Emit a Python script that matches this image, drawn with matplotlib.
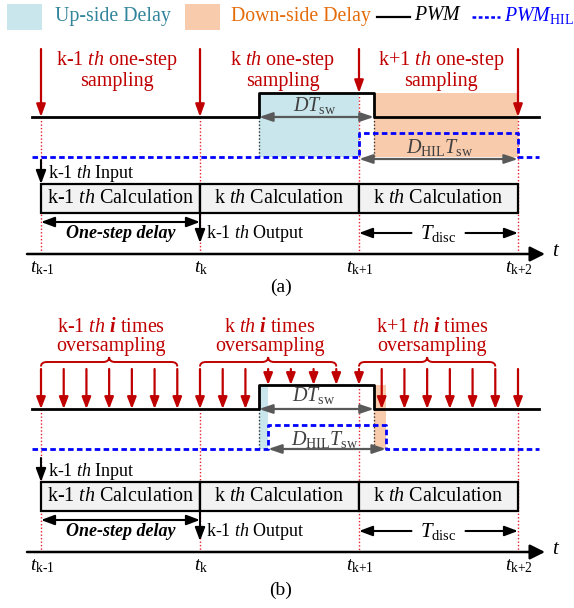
import matplotlib
matplotlib.use("Agg")
import matplotlib.pyplot as plt
from matplotlib.patches import Rectangle, PathPatch
from matplotlib.path import Path
from matplotlib.lines import Line2D

plt.rcParams['font.family'] = ['Liberation Serif', 'DejaVu Serif']
plt.rcParams['mathtext.fontset'] = 'custom'
plt.rcParams['mathtext.rm'] = 'Liberation Serif'
plt.rcParams['mathtext.it'] = 'Liberation Serif:italic'
plt.rcParams['mathtext.bf'] = 'Liberation Serif:bold'
plt.rcParams['mathtext.bfit'] = 'Liberation Serif:bold:italic'

# ---------------- data (time in sampling periods) ----------------
tick_times = [0, 1, 2, 3]
tick_labels = [r'$t_{\text{k-1}}$', r'$t_{\text{k}}$', r'$t_{\text{k+1}}$', r'$t_{\text{k+2}}$']
calc_labels = [r'k-1 $\mathit{th}$ Calculation', r'k $\mathit{th}$ Calculation', r'k $\mathit{th}$ Calculation']
sampling_a_labels = [r'k-1 $\mathit{th}$ one-step' + '\nsampling',
                     r'k $\mathit{th}$ one-step' + '\nsampling',
                     r'k+1 $\mathit{th}$ one-step' + '\nsampling']
sampling_b_labels = [r'k-1 $\mathit{th}$ $\mathbfit{i}$ times' + '\noversampling',
                     r'k $\mathit{th}$ $\mathbfit{i}$ times' + '\noversampling',
                     r'k+1 $\mathit{th}$ $\mathbfit{i}$ times' + '\noversampling']
oversampling_i = 7
pwm_a = [1.371, 2.094]      # rise, fall of PWM (a)
hil_a = [2.0, 3.0]          # rise, fall of PWM_HIL (a)
pwm_b = [1.371, 2.094]      # rise, fall of PWM (b)
hil_b = [1.428, 2.170]      # rise, fall of PWM_HIL (b)
signal_span = [-0.057, 3.13]

# ---------------- styling ----------------
RED = '#C00000'
RED_DOT = '#E8202A'
BLUE = '#0000FF'
UPFILL = '#C8E6EC'
DOWNFILL = '#F8CBAD'
UPTXT = '#31849B'
DOWNTXT = '#E46C0A'
GRAY = '#595959'
X0, P = 41, 159.0


def X(t):
    return X0 + t * P


fig = plt.figure(figsize=(5.74, 6.08), dpi=100)
ax = fig.add_axes([0, 0, 1, 1])
ax.set_xlim(0, 574)
ax.set_ylim(608, 0)
ax.axis('off')


def arrow(x1, y1, x2, y2, color='k', style='-|>', lw=1.5, hl=0.7, hw=0.3, z=5):
    ax.annotate('', xy=(x2, y2), xytext=(x1, y1),
                arrowprops=dict(arrowstyle=f'{style},head_length={hl},head_width={hw}',
                                color=color, lw=lw, shrinkA=0, shrinkB=0,
                                mutation_scale=10), zorder=z)


def brace(x1, x2, y, h=4.5, tip=5):
    xm = (x1 + x2) / 2
    r = 6
    verts = [(x1, y + h), (x1, y), (x1 + r, y), (xm - r, y), (xm, y), (xm, y - tip),
             (xm, y), (xm + r, y), (x2 - r, y), (x2, y), (x2, y + h)]
    codes = [Path.MOVETO, Path.CURVE3, Path.CURVE3, Path.LINETO, Path.CURVE3, Path.CURVE3,
             Path.CURVE3, Path.CURVE3, Path.LINETO, Path.CURVE3, Path.CURVE3]
    ax.add_patch(PathPatch(Path(verts, codes), fc='none', ec=RED, lw=1.4))


# ---------------- legend ----------------
ax.add_patch(Rectangle((7, 4), 35, 26, fc=UPFILL, ec='none'))
ax.text(55, 16, 'Up-side Delay', color=UPTXT, fontsize=14.3, va='center')
ax.add_patch(Rectangle((185, 4), 35, 26, fc=DOWNFILL, ec='none'))
ax.text(231, 16, 'Down-side Delay', color=DOWNTXT, fontsize=14.3, va='center')
ax.add_line(Line2D([377, 410], [17, 17], color='k', lw=1.6))
ax.text(414, 16, r'$PWM$', color='k', fontsize=14.3, va='center')
ax.add_line(Line2D([472, 500], [17, 17], color=BLUE, lw=1.8, ls=(0, (1.5, 1))))
ax.text(504, 16, r'$PWM_{\mathrm{HIL}}$', color=BLUE, fontsize=14.3, va='center')


def panel(oy, ly, pwm, hil, oversample, labels, tag):
    # oy: offset for signal part; ly: offset for lower part
    lo, hi = 117 + oy, 93 + oy
    hlo, hhi = 157 + oy, 133 + oy
    xs0, xs1 = X(signal_span[0]), X(signal_span[1])
    xr, xf = X(pwm[0]), X(pwm[1])
    hr, hf = X(hil[0]), X(hil[1])
    # delays shading
    ax.add_patch(Rectangle((xr, hi), hr - xr, hlo - hi, fc=UPFILL, ec='none', zorder=1))
    ax.add_patch(Rectangle((xf, hi), hf - xf, hlo - hi, fc=DOWNFILL, ec='none', zorder=1))
    # dotted black edges
    for xe in (xr, xf):
        ax.add_line(Line2D([xe, xe], [lo, hlo], color='#333333', lw=1.0, ls=(0, (1, 1.5)), zorder=2))
    # PWM
    ax.add_line(Line2D([xs0, xr, xr, xf, xf, xs1], [lo, lo, hi, hi, lo, lo], color='k', lw=2.0, zorder=4))
    # PWM_HIL
    ax.add_line(Line2D([xs0, hr, hr, hf, hf, xs1], [hlo, hlo, hhi, hhi, hlo, hlo],
                       color=BLUE, lw=2.0, ls=(0, (2, 1.2)), zorder=4))

    def level(x):
        return hi if xr <= x <= xf else lo

    # sampling arrows
    if oversample is None:
        for t in tick_times:
            x = X(t)
            arrow(x, 49 + oy, x, level(x), color=RED, lw=1.6, hl=0.75, hw=0.27)
        for k in range(3):
            cx = [117, 283, 441][k]
            ax.text(cx, 70 + oy, labels[k], color=RED, fontsize=14.5, ha='center', va='center',
                    linespacing=0.95)
    else:
        n = (len(tick_times) - 1) * oversample
        for j in range(n + 1):
            x = X(j / oversample)
            arrow(x, 369 + oy - 292, x, level(x), color=RED, lw=1.6, hl=0.7, hw=0.27)
        for k in range(3):
            bx1, bx2 = X(k), X(k + (oversample - 1) / oversample)
            brace(bx1, bx2, 362 + oy - 292)
            cx = [111, 270, 432][k]
            ax.text(cx, 337 + oy - 292, labels[k], color=RED, fontsize=14.5, ha='center', va='center',
                    linespacing=0.95)

    # red dotted lines to time axis
    axis_y = 254 + ly
    for t in tick_times:
        x = X(t)
        ax.add_line(Line2D([x, x], [level(x), axis_y], color=RED_DOT, lw=1.0, ls=(0, (1, 1.5)), zorder=2))

    # DT_sw arrow
    arrow(xr, lo, xf, lo, color=GRAY, style='<|-|>', lw=1.6, hl=0.8, hw=0.27, z=3)
    # D_HIL T_sw arrow
    dy = 2 if oversample is None else 0
    arrow(hr, hlo + dy, hf, hlo + dy, color=GRAY, style='<|-|>', lw=1.6, hl=0.8, hw=0.27, z=3)
    if oversample is None:
        ax.text(315, 105 + oy, r'$DT_{\mathrm{sw}}$', color='#404040', fontsize=14.5, ha='center', va='center')
        ax.text(440, 148 + oy, r'$D_{\mathrm{HIL}}T_{\mathrm{sw}}$', color='#404040', fontsize=14.5,
                ha='center', va='center')
    else:
        ax.text(314, 395, r'$DT_{\mathrm{sw}}$', color='#404040', fontsize=14.5, ha='center', va='center')
        ax.text(325, 439, r'$D_{\mathrm{HIL}}T_{\mathrm{sw}}$', color='#404040', fontsize=14.5,
                ha='center', va='center')

    # input arrow
    btop, bbot = 184 + ly, 213 + ly
    arrow(X(0), btop - 24, X(0), btop, color='k', lw=1.5, hl=0.8, hw=0.3)
    ax.text(X(0) + 7, 173 + ly, r'k-1 $\mathit{th}$ Input', fontsize=13, va='center')
    # calculation boxes
    for k in range(3):
        ax.add_patch(Rectangle((X(k), btop), P, bbot - btop, fc='#F2F2F2', ec='k', lw=1.6, zorder=3))
        ax.text(X(k + 0.5), (btop + bbot) / 2, calc_labels[k], fontsize=14.5, ha='center', va='center', zorder=4)
    # one-step delay
    arrow(X(0), 222 + ly, X(1), 222 + ly, color='k', style='<|-|>', lw=1.5, hl=0.8, hw=0.3)
    ax.text(X(0.5), 234 + ly, 'One-step delay', fontsize=13, fontweight='bold', fontstyle='italic',
            ha='center', va='center')
    # output arrow
    arrow(X(1), btop, X(1), 243 + ly, color='k', lw=1.5, hl=0.8, hw=0.3, z=6)
    ax.text(X(1) + 6, 233 + ly, r'k-1 $\mathit{th}$ Output', fontsize=13, va='center')
    # T_disc
    arrow(X(2.33), 233 + ly, X(2), 233 + ly, color='k', lw=1.5, hl=0.8, hw=0.3)
    arrow(X(2.67), 233 + ly, X(3), 233 + ly, color='k', lw=1.5, hl=0.8, hw=0.3)
    ax.text(X(2.5), 233 + ly, r'$T_{\mathrm{disc}}$', fontsize=15, ha='center', va='center')
    # time axis
    arrow(27, axis_y, 545, axis_y, color='k', lw=1.8, hl=0.9, hw=0.45)
    ax.text(552, axis_y - 3, r'$t$', fontsize=15, ha='left', va='center')
    for t, lab in zip(tick_times, tick_labels):
        ax.text(X(t) + 1, 268 + ly, lab, fontsize=14, ha='center', va='center')
    ax.text(281, 287 + ly + (5 if tag == '(b)' else 0), tag, fontsize=14, ha='center', va='center')


panel(0, 0, pwm_a, hil_a, None, sampling_a_labels, '(a)')
panel(292, 298, pwm_b, hil_b, oversampling_i, sampling_b_labels, '(b)')

fig.savefig('out.png', dpi=100)
